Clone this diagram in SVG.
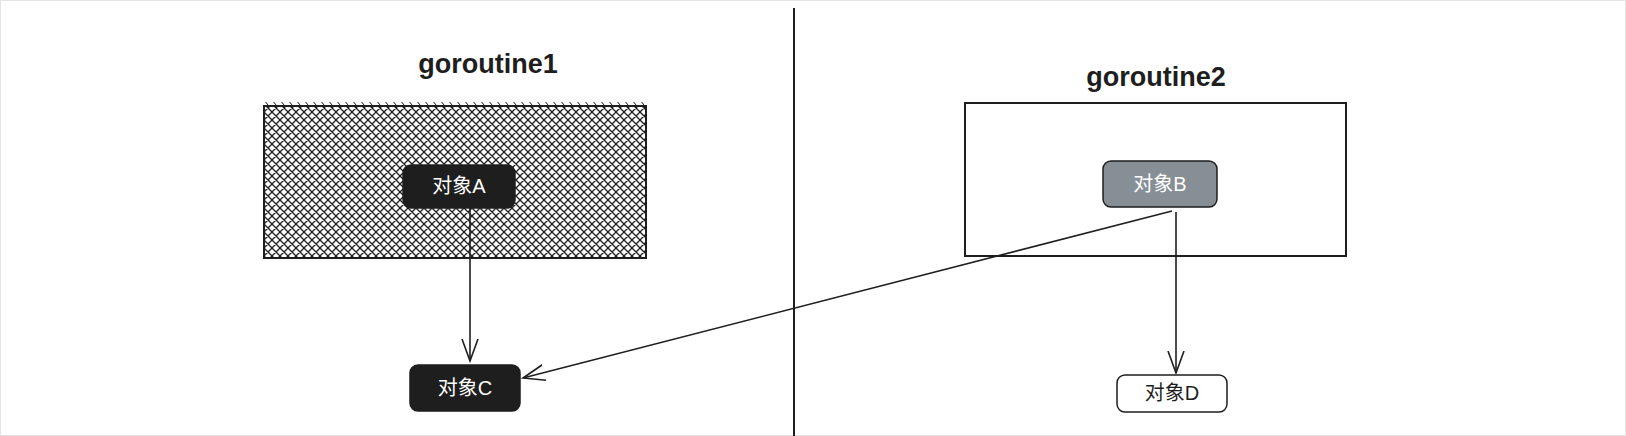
<svg xmlns="http://www.w3.org/2000/svg" width="1626" height="436" viewBox="0 0 1626 436">
<style>
.title{font-family:"Liberation Sans","Noto Sans",sans-serif;font-size:27px;font-weight:bold;fill:#1e1e1e;text-anchor:middle}
.lbl{font-family:"Liberation Sans","Noto Sans CJK SC",sans-serif;font-size:20px;text-anchor:middle}
.dark{fill:#1e1e1e;stroke:#1e1e1e;stroke-width:1.5}
.conn{stroke:#1e1e1e;stroke-width:1.6;fill:none}
</style>
<defs>
<pattern id="xh" patternUnits="userSpaceOnUse" width="8" height="8">
<rect width="8" height="8" fill="#fff"/>
<path d="M-1,1 L1,-1 M0,8 L8,0 M7,9 L9,7 M-1,7 L1,9 M0,0 L8,8 M7,-1 L9,1" stroke="#1e1e1e" stroke-width="1.3"/>
</pattern>
<pattern id="tick" patternUnits="userSpaceOnUse" width="8" height="5">
<path d="M0,0 L4,5" stroke="#1e1e1e" stroke-width="1"/>
</pattern>
<marker id="ah" markerUnits="userSpaceOnUse" markerWidth="24" markerHeight="20" viewBox="0 0 24 20" refX="22" refY="10" orient="auto">
<path d="M0,2 L22,10 L0,18" fill="none" stroke="#1e1e1e" stroke-width="1.6"/>
</marker>
</defs>
<rect x="0.5" y="0.5" width="1625" height="435" fill="#fff" stroke="#e4e4e4"/>
<line x1="794" y1="8" x2="794" y2="436" stroke="#1e1e1e" stroke-width="2"/>
<g id="goroutine1">
<rect x="264" y="102" width="382" height="4" fill="url(#tick)"/>
<rect x="264" y="106" width="382" height="152" fill="url(#xh)" stroke="#1e1e1e" stroke-width="2"/>
<text class="title" x="488" y="73">goroutine1</text>
</g>
<g id="goroutine2">
<rect x="965" y="103" width="381" height="153" fill="none" stroke="#1e1e1e" stroke-width="2"/>
<text class="title" x="1156" y="86">goroutine2</text>
</g>
<g id="connectors">
<line class="conn" x1="470" y1="208" x2="470" y2="361" marker-end="url(#ah)"/>
<line class="conn" x1="1176" y1="212" x2="1176" y2="373" marker-end="url(#ah)"/>
<line class="conn" x1="1172" y1="211" x2="523" y2="378" marker-end="url(#ah)"/>
</g>
<g id="objA">
<rect class="dark" x="403" y="165" width="112" height="43" rx="8"/>
<text class="lbl" x="459" y="193" fill="#fff">对象A</text>
</g>
<g id="objB">
<rect x="1103" y="161" width="114" height="46" rx="8" fill="#868e96" stroke="#1e1e1e" stroke-width="1.5"/>
<text class="lbl" x="1160" y="191" fill="#fff">对象B</text>
</g>
<g id="objC">
<rect class="dark" x="410" y="365" width="110" height="46" rx="8"/>
<text class="lbl" x="465" y="395" fill="#fff">对象C</text>
</g>
<g id="objD">
<rect x="1117" y="375" width="110" height="37" rx="8" fill="#fff" stroke="#1e1e1e" stroke-width="1.5"/>
<text class="lbl" x="1172" y="400" fill="#1e1e1e">对象D</text>
</g>
</svg>
